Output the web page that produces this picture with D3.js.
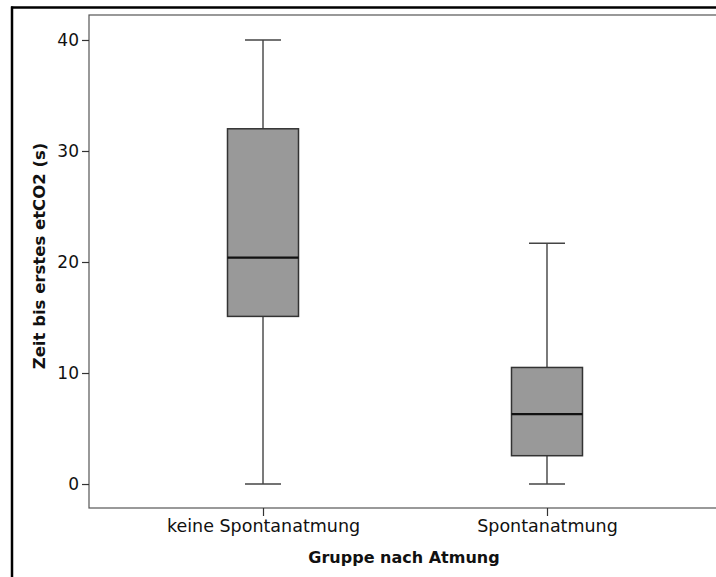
<!DOCTYPE html>
<html>
<head>
<meta charset="utf-8">
<script src="https://cdn.jsdelivr.net/npm/d3@7"></script>
<style>
  html, body { margin: 0; padding: 0; background: #fff; }
  svg { display: block; }
  text { font-family: "DejaVu Sans", sans-serif; fill: #111; }
</style>
</head>
<body>
<svg id="chart" width="716" height="577"></svg>
<script>
// ---- data ----
const categories = ["keine Spontanatmung", "Spontanatmung"];
const whiskerLow  = [0, 0];
const q1          = [15.1, 2.55];
const median      = [20.4, 6.3];
const q3          = [32.0, 10.5];
const whiskerHigh = [40, 21.7];
const yTicks = [0, 10, 20, 30, 40];
const yTitle = "Zeit bis erstes etCO2 (s)";
const xTitle = "Gruppe nach Atmung";

// ---- layout ----
const W = 716, H = 577;
const plot = { left: 89, right: 721, top: 15, bottom: 508 };
const svg = d3.select("#chart");

// outer frame
svg.append("line").attr("x1", 11).attr("x2", W).attr("y1", 7.5).attr("y2", 7.5)
  .attr("stroke", "#000").attr("stroke-width", 2.5);
svg.append("line").attr("x1", 12).attr("x2", 12).attr("y1", 6.5).attr("y2", H)
  .attr("stroke", "#000").attr("stroke-width", 2.5);

const y = d3.scaleLinear().domain([-2.16, 42.25]).range([plot.bottom, plot.top]);
const x = d3.scalePoint().domain(categories).range([plot.left, plot.right]).padding(0.6127);

// plot frame
svg.append("rect")
  .attr("x", plot.left).attr("y", plot.top)
  .attr("width", plot.right - plot.left).attr("height", plot.bottom - plot.top)
  .attr("fill", "none").attr("stroke", "#555").attr("stroke-width", 1.2);

// y axis
const yAxis = svg.append("g").attr("transform", `translate(${plot.left},0)`)
  .call(d3.axisLeft(y).tickValues(yTicks).tickSize(7).tickPadding(3).tickSizeOuter(0));
yAxis.select(".domain").remove();
yAxis.selectAll(".tick line").attr("stroke", "#333").attr("stroke-width", 1.2);
yAxis.selectAll(".tick text").attr("font-size", 17).attr("font-family", "DejaVu Sans").attr("fill", "#111");

// x axis
const xAxis = svg.append("g").attr("transform", `translate(0,${plot.bottom})`)
  .call(d3.axisBottom(x).tickSize(8).tickPadding(4).tickSizeOuter(0));
xAxis.select(".domain").remove();
xAxis.selectAll(".tick line").attr("stroke", "#333").attr("stroke-width", 1.2);
xAxis.selectAll(".tick text").attr("font-size", 17.5).attr("font-family", "DejaVu Sans").attr("fill", "#111");

// axis titles
svg.append("text")
  .attr("transform", `translate(45,${256}) rotate(-90)`)
  .attr("text-anchor", "middle").attr("font-size", 16.5).attr("font-weight", "bold")
  .text(yTitle);
svg.append("text")
  .attr("x", 404).attr("y", 563)
  .attr("text-anchor", "middle").attr("font-size", 16).attr("font-weight", "bold")
  .text(xTitle);

// boxes
const boxW = 71, capW = 36;
const g = svg.append("g");
categories.forEach((c, i) => {
  const cx = x(c);
  g.append("line").attr("x1", cx).attr("x2", cx)
    .attr("y1", y(whiskerHigh[i])).attr("y2", y(q3[i]))
    .attr("stroke", "#333").attr("stroke-width", 1.3);
  g.append("line").attr("x1", cx).attr("x2", cx)
    .attr("y1", y(q1[i])).attr("y2", y(whiskerLow[i]))
    .attr("stroke", "#333").attr("stroke-width", 1.3);
  [whiskerHigh[i], whiskerLow[i]].forEach(v => {
    g.append("line").attr("x1", cx - capW / 2).attr("x2", cx + capW / 2)
      .attr("y1", y(v)).attr("y2", y(v))
      .attr("stroke", "#444").attr("stroke-width", 1.5);
  });
  g.append("rect")
    .attr("x", cx - boxW / 2).attr("y", y(q3[i]))
    .attr("width", boxW).attr("height", y(q1[i]) - y(q3[i]))
    .attr("fill", "#999999").attr("stroke", "#333").attr("stroke-width", 1.5);
  g.append("line").attr("x1", cx - boxW / 2).attr("x2", cx + boxW / 2)
    .attr("y1", y(median[i])).attr("y2", y(median[i]))
    .attr("stroke", "#111").attr("stroke-width", 2.2);
});
</script>
</body>
</html>
